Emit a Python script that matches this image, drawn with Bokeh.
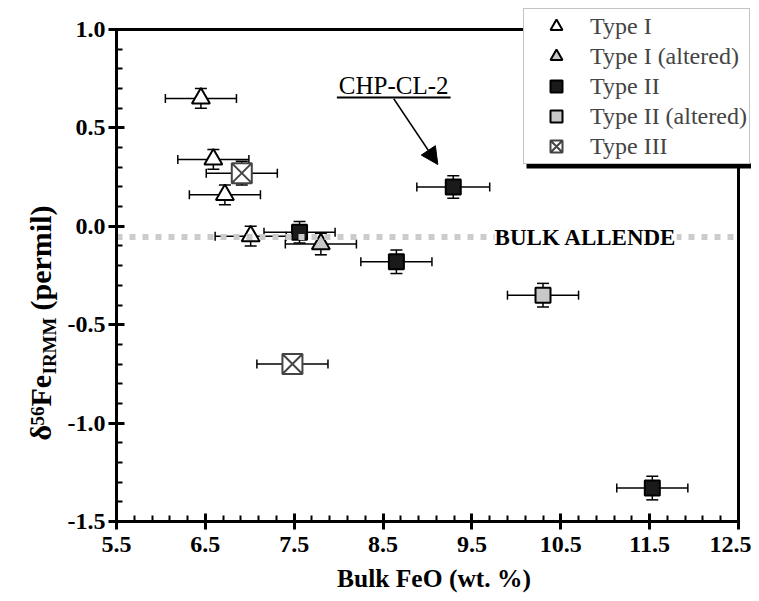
from bokeh.plotting import figure
from bokeh.layouts import row
from bokeh.models import (FixedTicker, Whisker, ColumnDataSource, Label, Arrow,
                          NormalHead, Legend, LegendItem, BoxAnnotation, TeeHead,
                          PrintfTickFormatter, Range1d)
from bokeh.embed import file_html
from bokeh.resources import INLINE

# ---- data ----
type1_x = [6.45, 6.59, 6.72, 7.01]
type1_y = [0.65, 0.34, 0.16, -0.05]
type1_xerr = [0.40, 0.40, 0.40, 0.40]
type1_yerr = [0.05, 0.05, 0.05, 0.05]

type1alt_x = [7.80]
type1alt_y = [-0.09]
type1alt_xerr = [0.40]
type1alt_yerr = [0.055]

type2_x = [7.56, 8.65, 9.29, 11.53]
type2_y = [-0.03, -0.18, 0.20, -1.33]
type2_xerr = [0.40, 0.40, 0.41, 0.40]
type2_yerr = [0.055, 0.06, 0.057, 0.06]

type2alt_x = [10.30]
type2alt_y = [-0.35]
type2alt_xerr = [0.40]
type2alt_yerr = [0.06]

type3_x = [6.91, 7.48]
type3_y = [0.27, -0.70]
type3_xerr = [0.40, 0.40]
type3_yerr = [0.06, 0.05]

bulk_allende = -0.055

x_ticks = [5.5, 6.5, 7.5, 8.5, 9.5, 10.5, 11.5, 12.5]
y_ticks = [-1.5, -1.0, -0.5, 0.0, 0.5, 1.0]

SERIF = "Liberation Serif"

# ---- layout geometry (pixels) ----
X_LO, X_HI = 5.5, 12.5
Y_LO, Y_HI = -1.5, 1.0
AX_W, AX_H = 622, 492          # size of the axes box
TOP_PAD, RIGHT_PAD = 29, 13    # frame extends past the axes box (room for legend)
LEFT, BOT = 56, 78
LW = 60                        # width of the y-title panel
PXX = AX_W / (X_HI - X_LO)
PXY = AX_H / (Y_HI - Y_LO)
FW, FH = AX_W + RIGHT_PAD, AX_H + TOP_PAD

p = figure(frame_width=FW, frame_height=FH, output_backend="svg", toolbar_location=None,
           x_range=Range1d(X_LO, X_HI + RIGHT_PAD / PXX),
           y_range=Range1d(Y_LO, Y_HI + TOP_PAD / PXY),
           min_border_left=LEFT, min_border_right=0, min_border_top=0, min_border_bottom=BOT,
           background_fill_color="white", border_fill_color="white")
p.xgrid.visible = False
p.ygrid.visible = False
p.outline_line_color = None

p.xaxis.ticker = FixedTicker(ticks=x_ticks,
                             minor_ticks=[round(5.5 + 0.2 * i, 2) for i in range(36)])
p.yaxis.ticker = FixedTicker(ticks=y_ticks,
                             minor_ticks=[round(-1.5 + 0.1 * i, 2) for i in range(26)])
p.xaxis.bounds = (X_LO, X_HI)
p.yaxis.bounds = (Y_LO, Y_HI)
for ax in (p.xaxis, p.yaxis):
    ax.formatter = PrintfTickFormatter(format="%.1f")
    ax.axis_line_width = 3
    ax.major_tick_line_width = 3
    ax.minor_tick_line_width = 2
    ax.major_tick_in = 8
    ax.major_tick_out = 8
    ax.minor_tick_in = 6
    ax.minor_tick_out = 0
    ax.major_label_text_font = SERIF
    ax.major_label_text_font_style = "bold"
    ax.major_label_text_font_size = "24px"
    ax.major_label_text_color = "black"
    ax.axis_label_text_font = SERIF
    ax.axis_label_text_font_style = "bold"
    ax.axis_label_text_font_size = "25.5px"
    ax.axis_label_text_color = "black"
p.xaxis.axis_label = "Bulk FeO (wt. %)"
p.xaxis.major_label_standoff = 7
p.xaxis.axis_label_standoff = 9
p.yaxis.axis_label = None
p.yaxis.major_label_standoff = 3

# top and right sides of the axes box
p.segment(x0=[X_LO, X_HI], y0=[Y_HI, Y_LO], x1=[X_HI, X_HI], y1=[Y_HI, Y_HI],
          line_color="black", line_width=3)


def add_series(xs, ys, xerr, yerr, marker, size, fill, line):
    src = ColumnDataSource(dict(
        x=xs, y=ys,
        xl=[a - e for a, e in zip(xs, xerr)], xu=[a + e for a, e in zip(xs, xerr)],
        yl=[a - e for a, e in zip(ys, yerr)], yu=[a + e for a, e in zip(ys, yerr)]))
    p.add_layout(Whisker(source=src, base="y", lower="xl", upper="xu", dimension="width",
                         line_color="black", line_width=1.5, level="underlay",
                         lower_head=TeeHead(size=9, line_width=1.5, line_color="black"),
                         upper_head=TeeHead(size=9, line_width=1.5, line_color="black")))
    p.add_layout(Whisker(source=src, base="x", lower="yl", upper="yu", dimension="height",
                         line_color="black", line_width=1.5, level="underlay",
                         lower_head=TeeHead(size=12, line_width=1.5, line_color="black"),
                         upper_head=TeeHead(size=12, line_width=1.5, line_color="black")))
    return p.scatter("x", "y", source=src, marker=marker, size=size,
                     fill_color=fill, line_color=line, line_width=2)


r1 = add_series(type1_x, type1_y, type1_xerr, type1_yerr, "triangle", 18, "white", "black")
r1a = add_series(type1alt_x, type1alt_y, type1alt_xerr, type1alt_yerr, "triangle", 18, "#c8c8c8", "black")
r2 = add_series(type2_x, type2_y, type2_xerr, type2_yerr, "square", 15, "#1a1a1a", "black")
r2a = add_series(type2alt_x, type2alt_y, type2alt_xerr, type2alt_yerr, "square", 15, "#c8c8c8", "black")
r3 = add_series(type3_x, type3_y, type3_xerr, type3_yerr, "square_x", 20, "white", "#444444")

# bulk Allende reference line (dotted, across the axes box)
p.segment(x0=[X_LO], y0=[bulk_allende], x1=[X_HI], y1=[bulk_allende],
          line_color="#cccccc", line_width=6, line_dash="6 7", line_cap="butt")
p.add_layout(Label(x=10.78, y=bulk_allende, text="BULK ALLENDE", text_align="center",
                   text_baseline="middle", text_font=SERIF, text_font_style="bold",
                   text_font_size="23px", text_color="black",
                   background_fill_color="white"))

# CHP-CL-2 annotation
p.add_layout(Label(x=8.62, y=0.648, text="CHP-CL-2", text_align="center",
                   text_baseline="bottom", text_font=SERIF, text_font_size="25px",
                   text_color="black"))
p.add_layout(Arrow(start=None, end=None, x_start=7.98, y_start=0.654, x_end=9.26, y_end=0.654,
                   line_color="black", line_width=2))
p.add_layout(Arrow(end=NormalHead(size=17, fill_color="black", line_color="black"),
                   x_start=8.62, y_start=0.648, x_end=9.116, y_end=0.314,
                   line_color="black", line_width=1.5))

# legend shadow and legend
p.add_layout(BoxAnnotation(left=410, right=FW + 10, bottom=353, top=358,
                           left_units="screen", right_units="screen",
                           bottom_units="screen", top_units="screen",
                           fill_color="black", fill_alpha=1, line_alpha=0))
legend = Legend(items=[LegendItem(label="Type I", renderers=[r1]),
                       LegendItem(label="Type I (altered)", renderers=[r1a]),
                       LegendItem(label="Type II", renderers=[r2]),
                       LegendItem(label="Type II (altered)", renderers=[r2a]),
                       LegendItem(label="Type III", renderers=[r3])],
                location=(407, 357), border_line_color="#888888", border_line_width=1.5,
                background_fill_color="white", background_fill_alpha=1,
                label_text_font=SERIF, label_text_font_size="24px",
                glyph_width=60, glyph_height=30, label_height=30, spacing=0,
                padding=2, margin=0, label_standoff=4)
p.add_layout(legend)

# y-axis title in its own narrow panel (superscript / subscript pieces);
# its frame is aligned with the main frame, 1 data unit = 1 pixel
lab = figure(width=LW, frame_height=FH, x_range=(0, LW), y_range=(0, FH),
             output_backend="svg", toolbar_location=None,
             min_border_left=0, min_border_right=0, min_border_top=0, min_border_bottom=BOT,
             x_axis_type=None, y_axis_type=None,
             outline_line_color=None, background_fill_color="white",
             border_fill_color="white")
lab.grid.visible = False
anchor_x = 56                  # right edge (descent side) of the main text
y_pos = FH - 440
pieces = [("\u03b4", 30, 0, 15), ("56", 19, -13, 19), ("Fe", 30, 0, 32),
          ("IRMM", 19, 3.5, 64), ("(permil)", 30, 0, 106)]
for txt, fs, dx, w in pieces:
    lab.add_layout(Label(x=anchor_x + dx, y=y_pos, text=txt, angle=90, angle_units="deg",
                         text_align="left", text_baseline="bottom", text_font=SERIF,
                         text_font_style="bold", text_font_size=f"{fs}px",
                         text_color="black"))
    y_pos += w

layout = row(lab, p)
open("out.html", "w").write(file_html(layout, INLINE))
